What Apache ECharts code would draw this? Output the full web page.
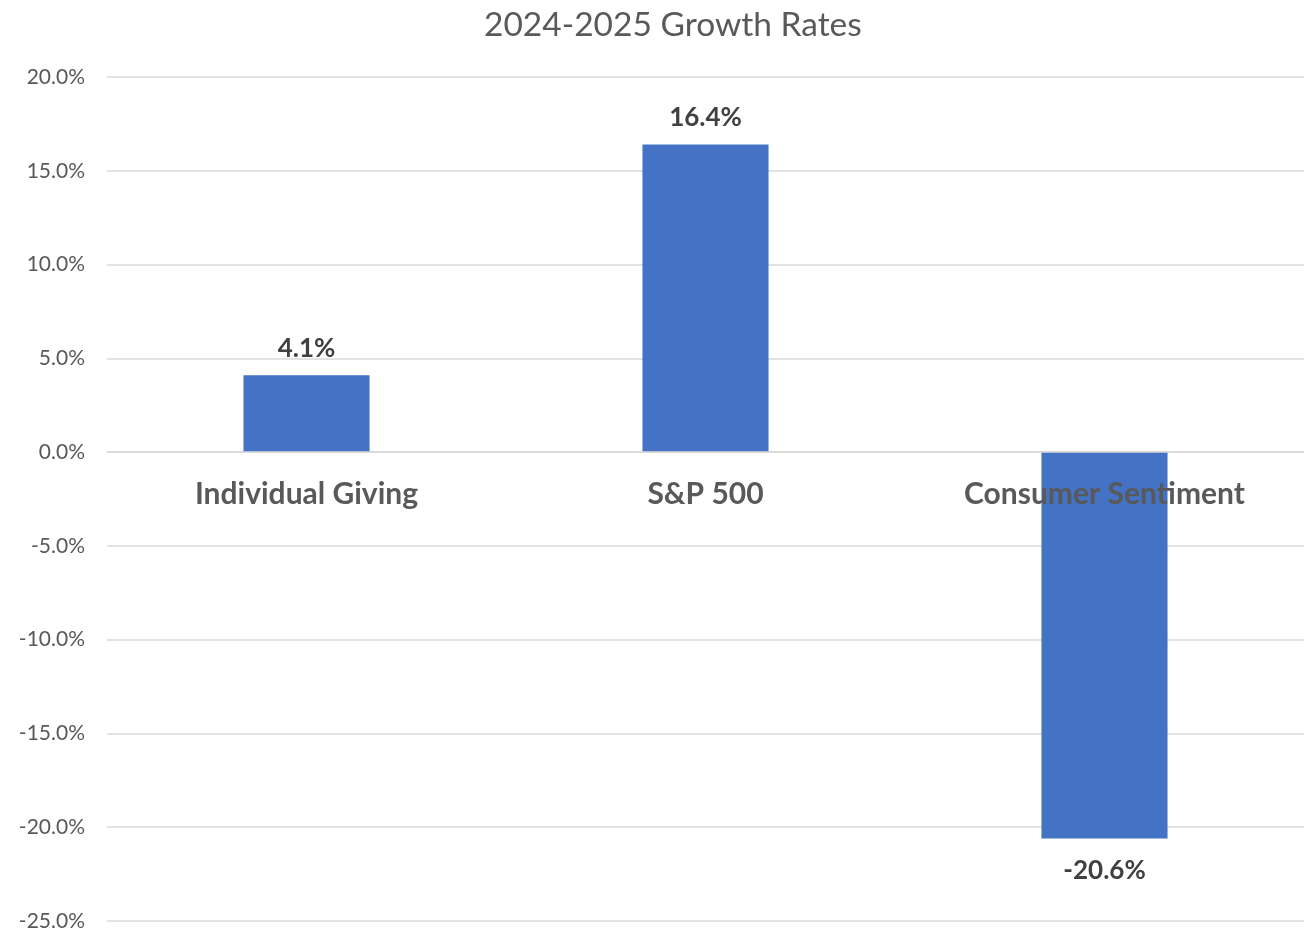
<!DOCTYPE html>
<html>
<head>
<meta charset="utf-8">
<script src="https://cdn.jsdelivr.net/npm/echarts@6/dist/echarts.min.js"></script>
<style>
  html, body { margin: 0; padding: 0; background: #fff; }
  #chart { width: 1304px; height: 931px; }
</style>
</head>
<body>
<div id="chart"></div>
<script>
// values
const categories = ['Individual Giving', 'S&P 500', 'Consumer Sentiment']
const growthRates = [4.1, 16.4, -20.6]
const yTicks = { min: -25, max: 20, step: 5 }

const fontFamily = 'Lato, "Open Sans", sans-serif'
const barColor = '#4472C4'

const myChart = echarts.init(document.getElementById('chart'))

const seriesData = growthRates.map(v => ({
  value: v,
  label: v < 0 ? { position: 'bottom', distance: 19 } : { position: 'top' }
}))

myChart.setOption({
  animation: false,
  title: {
    text: '2024-2025 Growth Rates',
    left: 479,
    top: 3,
    textStyle: { fontFamily, fontSize: 33.5, fontWeight: 'normal', color: '#595959' }
  },
  grid: {
    left: 107, right: 0, top: 77, bottom: 10,
    containLabel: false,
    outerBoundsMode: 'none'
  },
  xAxis: {
    type: 'category',
    data: categories,
    position: 'bottom',
    z: 10,
    axisLine: { onZero: false, lineStyle: { color: '#d9d9d9', width: 1.5 } },
    axisTick: { show: false },
    axisLabel: {
      margin: 27,
      fontFamily,
      fontSize: 30,
      fontWeight: 'bold',
      color: '#595959'
    }
  },
  yAxis: {
    type: 'value',
    min: yTicks.min,
    max: yTicks.max,
    interval: yTicks.step,
    axisLine: { show: false },
    axisTick: { show: false },
    splitLine: { lineStyle: { color: '#d9d9d9', width: 1.5 } },
    axisLabel: {
      margin: 22,
      fontFamily,
      fontSize: 21,
      color: '#595959',
      formatter: v => v.toFixed(1) + '%'
    }
  },
  series: [{
    type: 'bar',
    data: seriesData,
    barWidth: '31.6%',
    itemStyle: { color: barColor },
    label: {
      show: true,
      distance: 14,
      fontFamily,
      fontSize: 26,
      fontWeight: 'bold',
      color: '#404040',
      formatter: p => p.value.toFixed(1) + '%'
    }
  }]
})

// move the category axis up to the zero line, using the y scale
const zeroY = myChart.convertToPixel({ yAxisIndex: 0 }, 0)
const bottomY = myChart.convertToPixel({ yAxisIndex: 0 }, yTicks.min)
myChart.setOption({ xAxis: { offset: zeroY - bottomY } })

window.addEventListener('resize', () => myChart.resize())
</script>
</body>
</html>
